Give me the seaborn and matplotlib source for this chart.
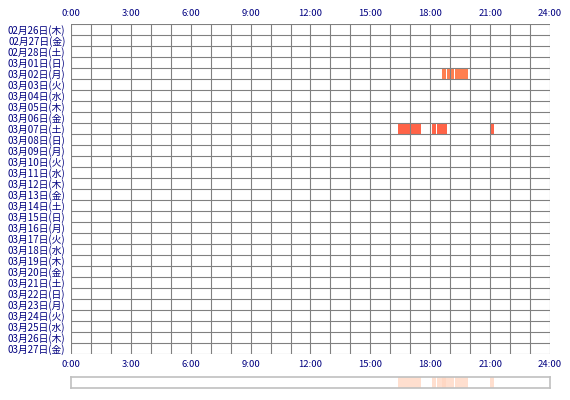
import numpy as np
import pandas as pd
import matplotlib
matplotlib.use("Agg")
import matplotlib.pyplot as plt
import seaborn as sns

# day labels (rows)
days = ["02月26日(木)", "02月27日(金)", "02月28日(土)", "03月01日(日)", "03月02日(月)",
        "03月03日(火)", "03月04日(水)", "03月05日(木)", "03月06日(金)", "03月07日(土)",
        "03月08日(日)", "03月09日(月)", "03月10日(火)", "03月11日(水)", "03月12日(木)",
        "03月13日(金)", "03月14日(土)", "03月15日(日)", "03月16日(月)", "03月17日(火)",
        "03月18日(水)", "03月19日(木)", "03月20日(金)", "03月21日(土)", "03月22日(日)",
        "03月23日(月)", "03月24日(火)", "03月25日(水)", "03月26日(木)", "03月27日(金)"]
hour_ticks = [0, 3, 6, 9, 12, 15, 18, 21, 24]
hour_labels = ["0:00", "3:00", "6:00", "9:00", "12:00", "15:00", "18:00", "21:00", "24:00"]

# activity sessions: day, start hour, end hour
sess_day = ["03月02日(月)", "03月02日(月)", "03月02日(月)",
            "03月07日(土)", "03月07日(土)", "03月07日(土)", "03月07日(土)"]
sess_start = [18.60, 18.83, 19.25, 16.40, 18.10, 18.33, 20.98]
sess_end = [18.78, 19.20, 19.90, 17.53, 18.28, 18.85, 21.20]
day_colors = {"03月02日(月)": "#ff7f50", "03月07日(土)": "#ff6347"}

df = pd.DataFrame({"day": sess_day, "start": sess_start, "end": sess_end})
df["row"] = df["day"].map({d: i for i, d in enumerate(days)})
df["dur"] = df["end"] - df["start"]

sns.set_style("white")
plt.rcParams['font.family'] = ['Noto Sans CJK JP', 'DejaVu Sans']
navy = "#000080"

fig = plt.figure(figsize=(5.7, 4), dpi=100)
ax = fig.add_axes([71/570, 1 - 354/400, 479/570, 330/400])

ax.barh(df["row"], df["dur"], left=df["start"], height=1.0,
        color=[day_colors[d] for d in df["day"]], linewidth=0, zorder=1)

ax.set_xlim(0, 24)
ax.set_ylim(len(days) - 0.5, -0.5)
for h in range(25):
    ax.axvline(h, color="#808080", lw=0.8, zorder=2)
for r in range(len(days) + 1):
    ax.axhline(r - 0.5, color="#808080", lw=0.8, zorder=2)
for s in ax.spines.values():
    s.set_visible(False)

ax.set_yticks(range(len(days)))
ax.set_yticklabels(days, fontsize=7, color=navy)
ax.set_xticks(hour_ticks)
ax.set_xticklabels(hour_labels, fontsize=6.8, color=navy)
ax.tick_params(axis="x", length=0, pad=4, labeltop=True, top=False)
ax.tick_params(axis="y", length=0, pad=4)

# summary strip below
ax2 = fig.add_axes([71/570, 1 - 388/400, 479/570, 11/400])
ax2.barh([0] * len(df), df["dur"], left=df["start"], height=1.0,
         color="#ffd5c0", alpha=0.75, linewidth=0)
ax2.set_xlim(0, 24)
ax2.set_ylim(-0.5, 0.5)
ax2.set_xticks([])
ax2.set_yticks([])
for s in ax2.spines.values():
    s.set_color("#c0c0c0")
    s.set_linewidth(1.2)

fig.savefig("out.png", dpi=100)
